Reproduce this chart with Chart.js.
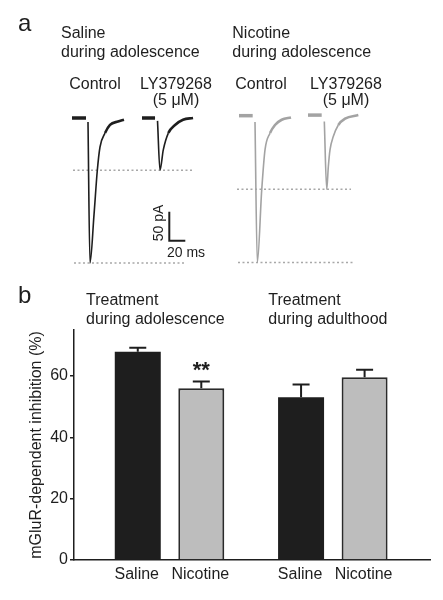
<!DOCTYPE html>
<html>
<head>
<meta charset="utf-8">
<script src="https://cdn.jsdelivr.net/npm/chart.js@4.4.1/dist/chart.umd.min.js"></script>
<style>
  body { margin: 0; background: #fff; }
  #wrap { position: relative; width: 443px; height: 600px; font-family: "Liberation Sans", Arial, sans-serif; color: #1e1e1e; }
  canvas { position: absolute; left: 0; }
  .t { position: absolute; font-size: 16px; line-height: 19px; white-space: nowrap; }
  .c { transform: translateX(-50%); text-align: center; line-height: 16px; }
  .big { font-size: 24px; line-height: 24px; }
  .sm { font-size: 14px; line-height: 14px; }
</style>
</head>
<body>
<div id="wrap">
  <canvas id="traces" width="443" height="280" style="top:0"></canvas>
  <canvas id="bars" width="443" height="320" style="top:280px"></canvas>

  <div class="t big" style="left:18px;top:11.4px">a</div>
  <div class="t" style="left:61px;top:23.3px">Saline<br>during adolescence</div>
  <div class="t" style="left:232.3px;top:23.3px">Nicotine<br>during adolescence</div>
  <div class="t c" style="left:95px;top:75.8px">Control</div>
  <div class="t c" style="left:176px;top:75.8px">LY379268<br>(5 μM)</div>
  <div class="t c" style="left:261px;top:75.8px">Control</div>
  <div class="t c" style="left:346px;top:75.8px">LY379268<br>(5 μM)</div>
  <div class="t sm" style="left:157.5px;top:223px;transform:translate(-50%,-50%) rotate(-90deg)">50 pA</div>
  <div class="t sm c" style="left:186px;top:244.6px;line-height:14px">20 ms</div>

  <div class="t big" style="left:18px;top:282.7px">b</div>
  <div class="t" style="left:86px;top:290px">Treatment<br>during adolescence</div>
  <div class="t" style="left:268.3px;top:290px">Treatment<br>during adulthood</div>
</div>
<script>
// ---- panel a: EPSC traces (time in ms from sweep start, current in pA) ----
const salCtrlT = [0, 17.5, 19, 20, 22.5, 27.5, 31.6, 35, 41.3, 47.5, 57.5, 65];
const salCtrlI = [0, 0, null, -7, -250, -167, -91, -50, -26, -12, -6, -3];
const salLyT = [0, 16.3, 18, 19.4, 22.5, 26.6, 32.9, 41.3, 51.3, 63.8];
const salLyI = [0, 0, null, -5, -90, -55, -26, -12, -3, 0];
const nicCtrlT = [0, 17.1, 18.5, 20, 22.9, 28.4, 32.5, 38.8, 45, 53.4, 65];
const nicCtrlI = [4, 4, null, -7, -249, -124, -55, -26, -12, -3, 1];
const nicLyT = [0, 17.1, 18.8, 20.4, 23.4, 25.4, 27.5, 31.6, 37.9, 46.3, 62.9];
const nicLyI = [5, 5, null, -6, -123, -84, -55, -32, -12, -1, 5];
const scaleBarPA = 50;
const scaleBarMS = 20;

// ---- panel b: mGluR-dependent inhibition (%) ----
const periods = ['during adolescence', 'during adulthood'];
const salineMean = [67.9, 53.1];
const salineSem = [1.3, 4.1];
const nicotineMean = [56.0, 59.6];
const nicotineSem = [2.2, 2.4];
const nicotineSig = ['**', ''];
const yTicks = [0, 20, 40, 60];

const FONT = '"Liberation Sans", Arial, sans-serif';
const INK = '#1e1e1e';
const GREY_TRACE = '#a3a3a3';

// layout of the trace panel (pixels)
const PX_PER_MS = 0.8;
const PX_PER_PA = 0.58;
const BASE_PX = 118;
const TW = 443, TH = 280;

function traceSet(t, cur, startPx, color) {
  const t0 = startPx / PX_PER_MS;
  return {
    data: t.map((v, k) => ({ x: t0 + v, y: cur[k] })),
    borderColor: color,
    borderWidth: 1.6,
    pointRadius: 0,
    cubicInterpolationMode: 'monotone',
    order: 1,
    segment: {
      borderWidth: c => {
        if (c.p0DataIndex === 0) return 3.5;
        const quiet = Math.abs(c.p0.parsed.y) < 30 && Math.abs(c.p1.parsed.y) < 30;
        return quiet ? 2.6 : 1.6;
      }
    }
  };
}

function peakLine(cur, fromPx, toPx) {
  const peak = Math.min(...cur.filter(v => v !== null));
  return {
    data: [{ x: fromPx / PX_PER_MS, y: peak }, { x: toPx / PX_PER_MS, y: peak }],
    borderColor: '#a8a8a8',
    borderWidth: 1.5,
    borderDash: [2, 2.5],
    pointRadius: 0,
    order: 2
  };
}

const sbX = 169.3 / PX_PER_MS;
const sbY = (BASE_PX - 240.7) / PX_PER_PA;

new Chart(document.getElementById('traces'), {
  type: 'line',
  data: {
    datasets: [
      traceSet(salCtrlT, salCtrlI, 72, INK),
      traceSet(salLyT, salLyI, 142, INK),
      traceSet(nicCtrlT, nicCtrlI, 239, GREY_TRACE),
      traceSet(nicLyT, nicLyI, 308, GREY_TRACE),
      peakLine(salLyI, 73, 192),
      peakLine(salCtrlI, 74, 186),
      peakLine(nicLyI, 237, 351),
      peakLine(nicCtrlI, 238, 353),
      {
        data: [{ x: sbX, y: sbY + scaleBarPA }, { x: sbX, y: sbY }, { x: sbX + scaleBarMS, y: sbY }],
        borderColor: INK, borderWidth: 2, pointRadius: 0, borderJoinStyle: 'miter', order: 0
      }
    ]
  },
  options: {
    responsive: false,
    animation: false,
    layout: { padding: 0 },
    plugins: { legend: { display: false }, tooltip: { enabled: false } },
    scales: {
      x: { type: 'linear', display: false, min: 0, max: TW / PX_PER_MS },
      y: { type: 'linear', display: false, min: -(TH - BASE_PX) / PX_PER_PA, max: BASE_PX / PX_PER_PA }
    }
  }
});

// error bars, bar names and significance stars
const barExtras = {
  id: 'barExtras',
  afterDatasetsDraw(chart) {
    const ctx = chart.ctx;
    const y = chart.scales.y;
    chart.data.datasets.forEach((ds, di) => {
      chart.getDatasetMeta(di).data.forEach((bar, i) => {
        const top = y.getPixelForValue(ds.data[i].y + ds.sem[i]);
        ctx.save();
        ctx.strokeStyle = INK;
        ctx.lineWidth = 2;
        ctx.beginPath();
        ctx.moveTo(bar.x, bar.y);
        ctx.lineTo(bar.x, top);
        ctx.moveTo(bar.x - 8.5, top);
        ctx.lineTo(bar.x + 8.5, top);
        ctx.stroke();
        ctx.fillStyle = INK;
        ctx.textAlign = 'center';
        ctx.textBaseline = 'alphabetic';
        ctx.font = '16px ' + FONT;
        ctx.fillText(ds.label, bar.x - 1, chart.chartArea.bottom + 18.5);
        if (ds.sig && ds.sig[i]) {
          ctx.font = 'bold 22px ' + FONT;
          ctx.fillText(ds.sig[i], bar.x, top - 4.5);
        }
        ctx.restore();
      });
    });
  }
};

new Chart(document.getElementById('bars'), {
  type: 'bar',
  plugins: [barExtras],
  data: {
    datasets: [
      {
        label: 'Saline',
        data: salineMean.map((v, i) => ({ x: i, y: v })),
        sem: salineSem,
        backgroundColor: INK,
        borderColor: INK,
        borderWidth: 0
      },
      {
        label: 'Nicotine',
        data: nicotineMean.map((v, i) => ({ x: i, y: v })),
        sem: nicotineSem,
        sig: nicotineSig,
        backgroundColor: '#bdbdbd',
        borderColor: '#2a2a2a',
        borderWidth: 2
      }
    ]
  },
  options: {
    responsive: false,
    animation: false,
    categoryPercentage: 0.778,
    barPercentage: 0.724,
    layout: { padding: { top: 50, right: 13, left: 0, bottom: 0 } },
    plugins: { legend: { display: false }, tooltip: { enabled: false } },
    scales: {
      x: {
        type: 'linear',
        offset: false,
        min: -0.585,
        max: 1.595,
        afterBuildTicks: s => { s.ticks = periods.map((_, i) => ({ value: i })); },
        ticks: { display: false },
        grid: { display: false, offset: false },
        border: { display: true, color: INK, width: 1.5 },
        afterFit: s => { s.height = 40; }
      },
      y: {
        min: 0,
        max: 75,
        afterBuildTicks: s => { s.ticks = yTicks.map(v => ({ value: v })); },
        ticks: { color: INK, font: { size: 16, family: FONT }, padding: 2 },
        grid: { drawOnChartArea: false, drawTicks: true, tickLength: 4, color: INK, lineWidth: 1.5 },
        border: { display: true, color: INK, width: 1.5 },
        title: {
          display: true,
          text: 'mGluR-dependent inhibition (%)',
          color: INK,
          font: { size: 16, family: FONT },
          padding: { top: 27, bottom: 0 }
        },
        afterFit: s => { s.width = 74; }
      }
    }
  }
});
</script>
</body>
</html>
